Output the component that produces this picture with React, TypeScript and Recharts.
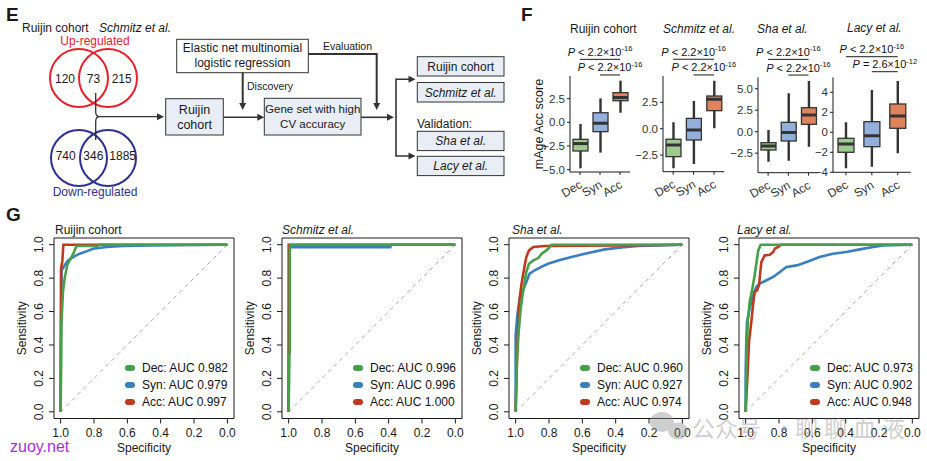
import React from 'react';
import {
  ComposedChart, Bar, LineChart, Line, XAxis, YAxis,
  ReferenceLine, ReferenceArea, Legend,
} from 'recharts';

const FONT = '"Liberation Sans", Arial, Helvetica, sans-serif';
const CJK = '"Noto Sans CJK SC", sans-serif';
const INK = '#1a1a1a';

// ---------- F: mAge Acc score box plots, [min, q1, median, q3, max] ----------
const boxGroups = ['Dec', 'Syn', 'Acc'];
const boxFill = ['#9fca8f', '#93b0dd', '#df835d'];

const ruijinDecBox = [-4.86, -3.03, -2.25, -1.8, -0.18];
const ruijinSynBox = [-3.2, -0.99, -0.1, 1.01, 2.53];
const ruijinAccBox = [1.01, 2.28, 2.62, 3.13, 4.4];

const schmitzDecBox = [-3.76, -2.65, -1.55, -1.0, 0.6];
const schmitzSynBox = [-3.35, -1.07, -0.12, 0.98, 2.63];
const schmitzAccBox = [0.04, 1.71, 2.79, 3.1, 4.56];

const shaDecBox = [-3.49, -2.13, -1.66, -1.28, 0.2];
const shaSynBox = [-3.37, -1.08, -0.1, 1.09, 4.47];
const shaAccBox = [-1.74, 0.86, 1.95, 2.79, 5.9];

const lacyDecBox = [-3.6, -2.0, -1.17, -0.6, 1.0];
const lacySynBox = [-3.44, -1.44, -0.34, 1.06, 4.23];
const lacyAccBox = [-2.1, 0.4, 1.63, 2.83, 5.13];

// significance brackets: height in score units, label text, exponent
const ruijinBrackets = [6.65, 5.0];
const schmitzBrackets = [6.59, 5.1];
const shaBrackets = [8.42, 6.59];
const lacyBrackets = [7.56, 6.06];
const commonP = ['< 2.2', '< 2.2'];
const commonExp = ['-16', '-16'];
const lacyP = ['< 2.2', '= 2.6'];
const lacyExp = ['-16', '-12'];

// ---------- G: ROC curves, [specificity, sensitivity] ----------
const ruijinDecRoc = [[1, 0], [0.996, 0.52], [0.986, 0.72], [0.976, 0.8], [0.96, 0.88], [0.94, 0.916], [0.924, 0.946], [0.908, 0.986], [0.904, 0.992], [0.78, 0.992], [0.77, 1], [0, 1]];
const ruijinSynRoc = [[1, 0], [0.998, 0.5], [0.994, 0.847], [0.976, 0.877], [0.956, 0.906], [0.926, 0.926], [0.886, 0.946], [0.846, 0.96], [0.806, 0.976], [0.726, 0.986], [0.626, 0.992], [0.465, 0.996], [0, 1]];
const ruijinAccRoc = [[1, 0], [0.998, 0.85], [0.994, 0.88], [0.99, 0.9], [0.984, 1], [0, 1]];

const schmitzDecRoc = [[1, 0], [0.996, 0.34], [0.993, 0.36], [0.993, 0.985], [0.986, 1], [0, 1]];
const schmitzSynRoc = [[1, 0], [0.996, 0.97], [0.99, 0.985], [0.39, 0.985], [0.385, 1], [0, 1]];
const schmitzAccRoc = [[1, 0], [1, 1], [0, 1]];

const shaDecRoc = [[1, 0], [0.994, 0.279], [0.982, 0.478], [0.97, 0.618], [0.956, 0.717], [0.946, 0.777], [0.936, 0.837], [0.92, 0.886], [0.894, 0.906], [0.864, 0.92], [0.844, 0.946], [0.824, 0.96], [0.804, 0.976], [0.784, 1], [0, 1]];
const shaSynRoc = [[1, 0], [1, 0.458], [0.99, 0.578], [0.976, 0.677], [0.956, 0.727], [0.936, 0.777], [0.916, 0.827], [0.886, 0.847], [0.846, 0.867], [0.806, 0.886], [0.745, 0.906], [0.665, 0.926], [0.585, 0.946], [0.465, 0.972], [0.365, 0.984], [0.265, 0.992], [0.146, 0.996], [0, 1]];
const shaAccRoc = [[1, 0], [0.99, 0.378], [0.982, 0.578], [0.976, 0.677], [0.966, 0.757], [0.956, 0.817], [0.946, 0.876], [0.936, 0.926], [0.92, 0.966], [0.894, 0.986], [0.824, 0.992], [0.4, 0.996], [0, 1]];

const lacyDecRoc = [[1, 0], [0.996, 0.239], [0.992, 0.418], [0.986, 0.558], [0.976, 0.657], [0.96, 0.737], [0.946, 0.817], [0.932, 0.916], [0.924, 0.966], [0.91, 1], [0, 1]];
const lacySynRoc = [[1, 0], [1, 0.239], [0.996, 0.438], [0.992, 0.538], [0.976, 0.617], [0.956, 0.697], [0.936, 0.747], [0.916, 0.767], [0.875, 0.787], [0.835, 0.807], [0.795, 0.837], [0.755, 0.867], [0.694, 0.876], [0.634, 0.896], [0.557, 0.926], [0.477, 0.946], [0.396, 0.956], [0.316, 0.972], [0.235, 0.986], [0.175, 0.996], [0, 1]];
const lacyAccRoc = [[1, 0], [0.99, 0.2], [0.986, 0.28], [0.98, 0.418], [0.966, 0.538], [0.956, 0.637], [0.946, 0.717], [0.932, 0.727], [0.92, 0.757], [0.912, 0.837], [0.906, 0.896], [0.886, 0.936], [0.855, 0.94], [0.835, 0.956], [0.825, 0.976], [0.805, 0.986], [0.789, 1], [0, 1]];

const ruijinAuc = ['0.982', '0.979', '0.997'];
const schmitzAuc = ['0.996', '0.996', '1.000'];
const shaAuc = ['0.960', '0.927', '0.974'];
const lacyAuc = ['0.973', '0.902', '0.948'];

const rocTicks = [0, 0.2, 0.4, 0.6, 0.8, 1];
const rocColor = { Dec: '#45a049', Syn: '#3a7ebf', Acc: '#be3a1e' };

// ---------- helpers ----------
const boxRows = (dec: number[], syn: number[], acc: number[]) =>
  [dec, syn, acc].map((s, i) => ({ group: boxGroups[i], range: [s[0], s[4]], stats: s, fill: boxFill[i] }));

const toPts = (arr: number[][]) => arr.map(([x, y]) => ({ x, y }));

const BoxShape = (props: any) => {
  const { x, y, width, height, payload } = props;
  if (!payload) return null;
  const [mn, q1, med, q3, mx] = payload.stats;
  const top = Math.min(y, y + height);
  const h = Math.abs(height);
  const py = (v: number) => top + (h * (mx - v)) / (mx - mn);
  const cx = x + width / 2;
  return (
    <g>
      <line x1={cx} x2={cx} y1={py(mx)} y2={py(mn)} stroke="#333" strokeWidth={2.4} />
      <rect x={x} y={py(q3)} width={width} height={py(q1) - py(q3)} fill={payload.fill} stroke="#333" strokeWidth={1.3} />
      <line x1={x} x2={x + width} y1={py(med)} y2={py(med)} stroke="#333" strokeWidth={3} />
    </g>
  );
};

const BoxTick = (props: any) => {
  const { x, y, payload } = props;
  const ax = x + 3;
  const ay = y + 10;
  return (
    <text x={ax} y={ay} transform={`rotate(-30 ${ax} ${ay})`} textAnchor="end" fontSize={12} fill="#333" fontFamily={FONT}>
      {payload.value}
    </text>
  );
};

const pLabel = (op: string, exp: string) => (p: any) => {
  const vb = p && p.viewBox;
  if (!vb) return null;
  return (
    <text x={vb.x + vb.width / 2} y={vb.y - 3.5} textAnchor="middle" fontFamily={FONT} fontSize={11} fill="#111">
      <tspan fontStyle="italic">P</tspan>
      {` ${op}×10`}
      <tspan dy={-4.5} fontSize={7.5}>{exp}</tspan>
    </text>
  );
};

const fmt1 = (v: number) => (v < 0 ? '\u2212' + Math.abs(v).toFixed(1) : v.toFixed(1));
const fmt0 = (v: number) => (v < 0 ? '\u2212' + Math.abs(v).toFixed(0) : v.toFixed(0));

interface BoxPanelProps {
  rows: any[];
  plot: number[]; // left, right, top, bottom (page px)
  yW: number;
  domain: number[];
  ticks: number[];
  fmt: (v: number) => string;
  brackets: number[];
  ops: string[];
  exps: string[];
  barSize: number;
  yLabel?: string;
}

function BoxPanel({ rows, plot, yW, domain, ticks, fmt, brackets, ops, exps, barSize, yLabel }: BoxPanelProps) {
  const chartLeft = plot[0] - yW;
  const chartTop = 40;
  const chartBottom = 200;
  const rightPad = 18;
  const width = plot[1] + rightPad - chartLeft;
  const height = chartBottom - chartTop;
  const pairs = [['Dec', 'Acc'], ['Syn', 'Acc']];
  return (
    <div style={{ position: 'absolute', left: chartLeft, top: chartTop }}>
      <ComposedChart width={width} height={height} data={rows}
        margin={{ top: plot[2] - chartTop, right: rightPad, bottom: 0, left: 0 }}>
        <XAxis dataKey="group" type="category" interval={0} tick={<BoxTick />} tickSize={3}
          stroke={INK} height={chartBottom - plot[3]} />
        <YAxis type="number" domain={domain} ticks={ticks} tickFormatter={fmt} width={yW} tickSize={3}
          stroke={INK} allowDataOverflow tick={{ fontSize: 11.5, fill: '#333', fontFamily: FONT }}
          label={yLabel ? (p: any) => {
            const vb = p && p.viewBox;
            if (!vb) return null;
            const lx = vb.x + 14.5;
            const ly = vb.y + vb.height / 2;
            return (
              <text x={lx} y={ly} transform={`rotate(-90 ${lx} ${ly})`} textAnchor="middle"
                fontSize={12.5} fill={INK} fontFamily={FONT}>{yLabel}</text>
            );
          } : undefined} />
        <Bar dataKey="range" barSize={barSize} shape={BoxShape} isAnimationActive={false} />
        {brackets.map((b, i) => (
          <ReferenceLine key={i} ifOverflow="visible" stroke={INK} strokeWidth={1}
            segment={[{ x: pairs[i][0], y: b }, { x: pairs[i][1], y: b }]}
            label={pLabel(ops[i], exps[i])} />
        ))}
      </ComposedChart>
    </div>
  );
}

const RocXTick = (props: any) => {
  const { x, y, payload } = props;
  return (
    <text x={x} y={y + 11.5} textAnchor="middle" fontSize={12} fill={INK} fontFamily={FONT}>
      {Number(payload.value).toFixed(1)}
    </text>
  );
};

const RocYTick = (props: any) => {
  const { x, y, payload } = props;
  const tx = x - 4;
  return (
    <text x={tx} y={y} transform={`rotate(-90 ${tx} ${y})`} textAnchor="middle" fontSize={12} fill={INK} fontFamily={FONT}>
      {Number(payload.value).toFixed(1)}
    </text>
  );
};

const legendOrder = ['Dec', 'Syn', 'Acc'];
const RocLegend = (props: any) => {
  const items = [...(props.payload || [])].sort(
    (a: any, b: any) => legendOrder.indexOf(String(a.value).slice(0, 3)) - legendOrder.indexOf(String(b.value).slice(0, 3)),
  );
  return (
    <div style={{ fontFamily: FONT, fontSize: 12, color: '#111' }}>
      {items.map((it: any) => (
        <div key={it.value} style={{ display: 'flex', alignItems: 'center', height: 17, whiteSpace: 'nowrap' }}>
          <span style={{ display: 'inline-block', width: 10, height: 6, borderRadius: 3, background: it.color, marginRight: 7 }} />
          {it.value}
        </div>
      ))}
    </div>
  );
};

interface RocPanelProps {
  plotLeft: number;
  dec: number[][];
  syn: number[][];
  acc: number[][];
  auc: string[];
}

function RocPanel({ plotLeft, dec, syn, acc, auc }: RocPanelProps) {
  const yW = 54;
  return (
    <div style={{ position: 'absolute', left: plotLeft - yW, top: 220 }}>
      <LineChart width={yW + 184} height={241} margin={{ top: 18, right: 4, bottom: 0, left: 0 }}>
        <XAxis type="number" dataKey="x" domain={[-0.04, 1.04]} reversed allowDataOverflow ticks={rocTicks}
          tick={<RocXTick />} tickSize={5} axisLine={false} tickLine={{ stroke: INK }} height={42.5}
          label={(p: any) => {
            const vb = p && p.viewBox;
            if (!vb) return null;
            return (
              <text x={vb.x + vb.width / 2} y={vb.y + 33} textAnchor="middle" fontSize={12} fill={INK} fontFamily={FONT}>
                Specificity
              </text>
            );
          }} />
        <YAxis type="number" domain={[-0.04, 1.04]} allowDataOverflow ticks={rocTicks} width={yW}
          tick={<RocYTick />} tickSize={5} axisLine={false} tickLine={{ stroke: INK }}
          label={(p: any) => {
            const vb = p && p.viewBox;
            if (!vb) return null;
            const lx = vb.x + 26;
            const ly = vb.y + vb.height / 2;
            return (
              <text x={lx} y={ly} transform={`rotate(-90 ${lx} ${ly})`} textAnchor="middle" fontSize={12} fill={INK} fontFamily={FONT}>
                Sensitivity
              </text>
            );
          }} />
        <ReferenceArea x1={-0.04} x2={1.04} y1={-0.04} y2={1.04} fill="none" fillOpacity={0} stroke={INK} strokeWidth={1} ifOverflow="visible" />
        <ReferenceLine segment={[{ x: 1, y: 0 }, { x: 0, y: 1 }]} stroke="#a8a8a8" strokeWidth={1} strokeDasharray="4 4" />
        <Line data={toPts(syn)} dataKey="y" name={`Syn: AUC ${auc[1]}`} stroke={rocColor.Syn} strokeWidth={2.6}
          dot={false} activeDot={false} type="linear" isAnimationActive={false} />
        <Line data={toPts(acc)} dataKey="y" name={`Acc: AUC ${auc[2]}`} stroke={rocColor.Acc} strokeWidth={2.6}
          dot={false} activeDot={false} type="linear" isAnimationActive={false} />
        <Line data={toPts(dec)} dataKey="y" name={`Dec: AUC ${auc[0]}`} stroke={rocColor.Dec} strokeWidth={2.6}
          dot={false} activeDot={false} type="linear" isAnimationActive={false} />
        <Legend layout="vertical" align="center" verticalAlign="middle" content={RocLegend}
          wrapperStyle={{ left: 125, top: 139.5, width: 112 }} />
      </LineChart>
    </div>
  );
}

// ---------- E: workflow diagram ----------
const arrowR = (x: number, y: number) => `${x - 7},${y - 3.5} ${x},${y} ${x - 7},${y + 3.5}`;
const arrowD = (x: number, y: number) => `${x - 3.5},${y - 7} ${x},${y} ${x + 3.5},${y - 7}`;

function FlowE() {
  const fillBox = '#e8edf6';
  const red = '#e8212b';
  const navy = '#2e3192';
  return (
    <g fontFamily={FONT} fill={INK}>
      <text x={6} y={21} fontSize={19} fontWeight="bold">E</text>
      <text x={22} y={32} fontSize={12}>Ruijin cohort</text>
      <text x={99} y={32} fontSize={12} fontStyle="italic">Schmitz et al.</text>
      <text x={95} y={45} fontSize={12} textAnchor="middle" fill={red}>Up-regulated</text>
      <circle cx={79} cy={78} r={29} fill="none" stroke={red} strokeWidth={2} />
      <circle cx={108} cy={78} r={29} fill="none" stroke={red} strokeWidth={2} />
      <text x={65} y={83} fontSize={12} textAnchor="middle">120</text>
      <text x={93.5} y={83} fontSize={12} textAnchor="middle">73</text>
      <text x={121.7} y={83} fontSize={12} textAnchor="middle">215</text>
      <circle cx={79} cy={158} r={28} fill="none" stroke={navy} strokeWidth={2} />
      <circle cx={108} cy={158} r={28} fill="none" stroke={navy} strokeWidth={2} />
      <text x={65.7} y={160} fontSize={12} textAnchor="middle">740</text>
      <text x={93.3} y={160} fontSize={12} textAnchor="middle">346</text>
      <text x={122.7} y={160} fontSize={12} textAnchor="middle">1885</text>
      <text x={95} y={196} fontSize={12} textAnchor="middle" fill={navy}>Down-regulated</text>

      <path d="M95.7 93 V112 Q95.7 116.7 100 116.7 M95.7 140 V121.4 Q95.7 116.7 100 116.7 H158"
        fill="none" stroke="#333" strokeWidth={1.3} />
      <polygon points={arrowR(164, 116.7)} fill="#333" />

      <rect x={165.7} y={98.7} width={57.6} height={36.3} fill={fillBox} stroke="#333" strokeWidth={1} />
      <text x={194.5} y={113.5} fontSize={12.5} textAnchor="middle">Ruijin</text>
      <text x={194.5} y={128.5} fontSize={12.5} textAnchor="middle">cohort</text>
      <line x1={223.3} y1={117.3} x2={258} y2={117.3} stroke="#333" strokeWidth={1.6} />
      <polygon points={arrowR(264.3, 117.3)} fill="#333" />

      <rect x={176.7} y={39.3} width={131.6} height={33.4} fill="#fff" stroke="#333" strokeWidth={1} />
      <text x={242.5} y={51.5} fontSize={12} textAnchor="middle">Elastic net multinomial</text>
      <text x={242.5} y={66.5} fontSize={12} textAnchor="middle">logistic regression</text>
      <line x1={242.7} y1={72.7} x2={242.7} y2={104} stroke="#333" strokeWidth={2} />
      <polygon points={arrowD(242.7, 110)} fill="#333" />
      <text x={247} y={89.5} fontSize={10.5}>Discovery</text>
      <path d="M308.3 54 H376.7 V104" fill="none" stroke="#333" strokeWidth={2} />
      <polygon points={arrowD(376.7, 110)} fill="#333" />
      <text x={323} y={50} fontSize={10.5}>Evaluation</text>

      <rect x={264.3} y={98.3} width={96.7} height={36.7} fill={fillBox} stroke="#333" strokeWidth={1} />
      <text x={312.7} y={113} fontSize={11.5} textAnchor="middle">Gene set with high</text>
      <text x={312.7} y={127.5} fontSize={11.5} textAnchor="middle">CV accuracy</text>
      <line x1={361} y1={117.3} x2={388} y2={117.3} stroke="#333" strokeWidth={1.6} />
      <polygon points={arrowR(394, 117.3)} fill="#333" />
      <path d="M409 79.3 H396 V156 H409" fill="none" stroke="#333" strokeWidth={1.6} />
      <polygon points={arrowR(415.5, 79.3)} fill="#333" />
      <polygon points={arrowR(415.5, 156)} fill="#333" />

      <rect x={417.3} y={56.7} width={86.7} height={19.3} fill={fillBox} stroke="#333" strokeWidth={1} />
      <text x={460.7} y={70.5} fontSize={12} textAnchor="middle">Ruijin cohort</text>
      <rect x={417.3} y={82.5} width={86.7} height={19.5} fill={fillBox} stroke="#333" strokeWidth={1} />
      <text x={460.7} y={96.5} fontSize={12} textAnchor="middle" fontStyle="italic">Schmitz et al.</text>
      <text x={417} y={127.5} fontSize={12}>Validation:</text>
      <rect x={417.3} y={131.3} width={86.7} height={19.3} fill={fillBox} stroke="#333" strokeWidth={1} />
      <text x={460.7} y={145.3} fontSize={12} textAnchor="middle" fontStyle="italic">Sha et al.</text>
      <rect x={417.3} y={156.3} width={86.7} height={19.3} fill={fillBox} stroke="#333" strokeWidth={1} />
      <text x={460.7} y={170.3} fontSize={12} textAnchor="middle" fontStyle="italic">Lacy et al.</text>
    </g>
  );
}

export default function App() {
  return (
    <div style={{ position: 'absolute', left: 0, top: 0, width: 927, height: 461, background: '#fff', overflow: 'hidden' }}>
      <svg width={927} height={461} style={{ position: 'absolute', left: 0, top: 0 }}>
        <FlowE />
        <g fontFamily={FONT} fill={INK}>
          <text x={521} y={21} fontSize={19} fontWeight="bold">F</text>
          <text x={570} y={33} fontSize={12}>Ruijin cohort</text>
          <text x={663} y={33} fontSize={12} fontStyle="italic">Schmitz et al.</text>
          <text x={757} y={33} fontSize={12} fontStyle="italic">Sha et al.</text>
          <text x={847} y={32} fontSize={12} fontStyle="italic">Lacy et al.</text>
          <text x={6} y={221} fontSize={19} fontWeight="bold">G</text>
          <text x={55} y={233.5} fontSize={12}>Ruijin cohort</text>
          <text x={282} y={233.5} fontSize={12} fontStyle="italic">Schmitz et al.</text>
          <text x={512} y={233.5} fontSize={12} fontStyle="italic">Sha et al.</text>
          <text x={737} y={233.5} fontSize={12} fontStyle="italic">Lacy et al.</text>
        </g>
      </svg>

      <BoxPanel rows={boxRows(ruijinDecBox, ruijinSynBox, ruijinAccBox)} plot={[570, 630, 76, 172]} yW={42}
        domain={[-5.25, 4.89]} ticks={[-5, -2.5, 0, 2.5]} fmt={fmt1} brackets={ruijinBrackets}
        ops={commonP} exps={commonExp} barSize={15} yLabel="mAge Acc score" />
      <BoxPanel rows={boxRows(schmitzDecBox, schmitzSynBox, schmitzAccBox)} plot={[663.3, 724.5, 76, 171.7]} yW={32}
        domain={[-4.08, 5.0]} ticks={[-2.5, 0, 2.5]} fmt={fmt1} brackets={schmitzBrackets}
        ops={commonP} exps={commonExp} barSize={15} />
      <BoxPanel rows={boxRows(shaDecBox, shaSynBox, shaAccBox)} plot={[758.3, 819, 77.3, 172.7]} yW={32}
        domain={[-4.77, 6.33]} ticks={[-2.5, 0, 2.5, 5]} fmt={fmt1} brackets={shaBrackets}
        ops={commonP} exps={commonExp} barSize={15} />
      <BoxPanel rows={boxRows(lacyDecBox, lacySynBox, lacyAccBox)} plot={[833.3, 911, 77.3, 172.3]} yW={32}
        domain={[-4.0, 5.5]} ticks={[-4, -2, 0, 2, 4]} fmt={fmt0} brackets={lacyBrackets}
        ops={lacyP} exps={lacyExp} barSize={16} />

      <RocPanel plotLeft={54} dec={ruijinDecRoc} syn={ruijinSynRoc} acc={ruijinAccRoc} auc={ruijinAuc} />
      <RocPanel plotLeft={282} dec={schmitzDecRoc} syn={schmitzSynRoc} acc={schmitzAccRoc} auc={schmitzAuc} />
      <RocPanel plotLeft={509} dec={shaDecRoc} syn={shaSynRoc} acc={shaAccRoc} auc={shaAuc} />
      <RocPanel plotLeft={739} dec={lacyDecRoc} syn={lacySynRoc} acc={lacyAccRoc} auc={lacyAuc} />

      <svg width={927} height={461} style={{ position: 'absolute', left: 0, top: 0, pointerEvents: 'none' }}>
        <text x={10} y={452} fontSize={16} fill="#a52ee0" fontFamily={FONT}>zuoy.net</text>
        <g opacity={0.4} fill="#8a8a8a">
          <ellipse cx={662} cy={422} rx={12} ry={10} />
          <ellipse cx={678} cy={431} rx={10} ry={8.5} />
          <text x={692} y={437} fontSize={23} fontFamily={CJK}>公众号</text>
          <text x={773} y={437} fontSize={23} fontFamily={CJK}>·</text>
          <text x={795} y={437} fontSize={23} fontFamily={CJK} letterSpacing={6}>聊聊血液</text>
        </g>
      </svg>
    </div>
  );
}
